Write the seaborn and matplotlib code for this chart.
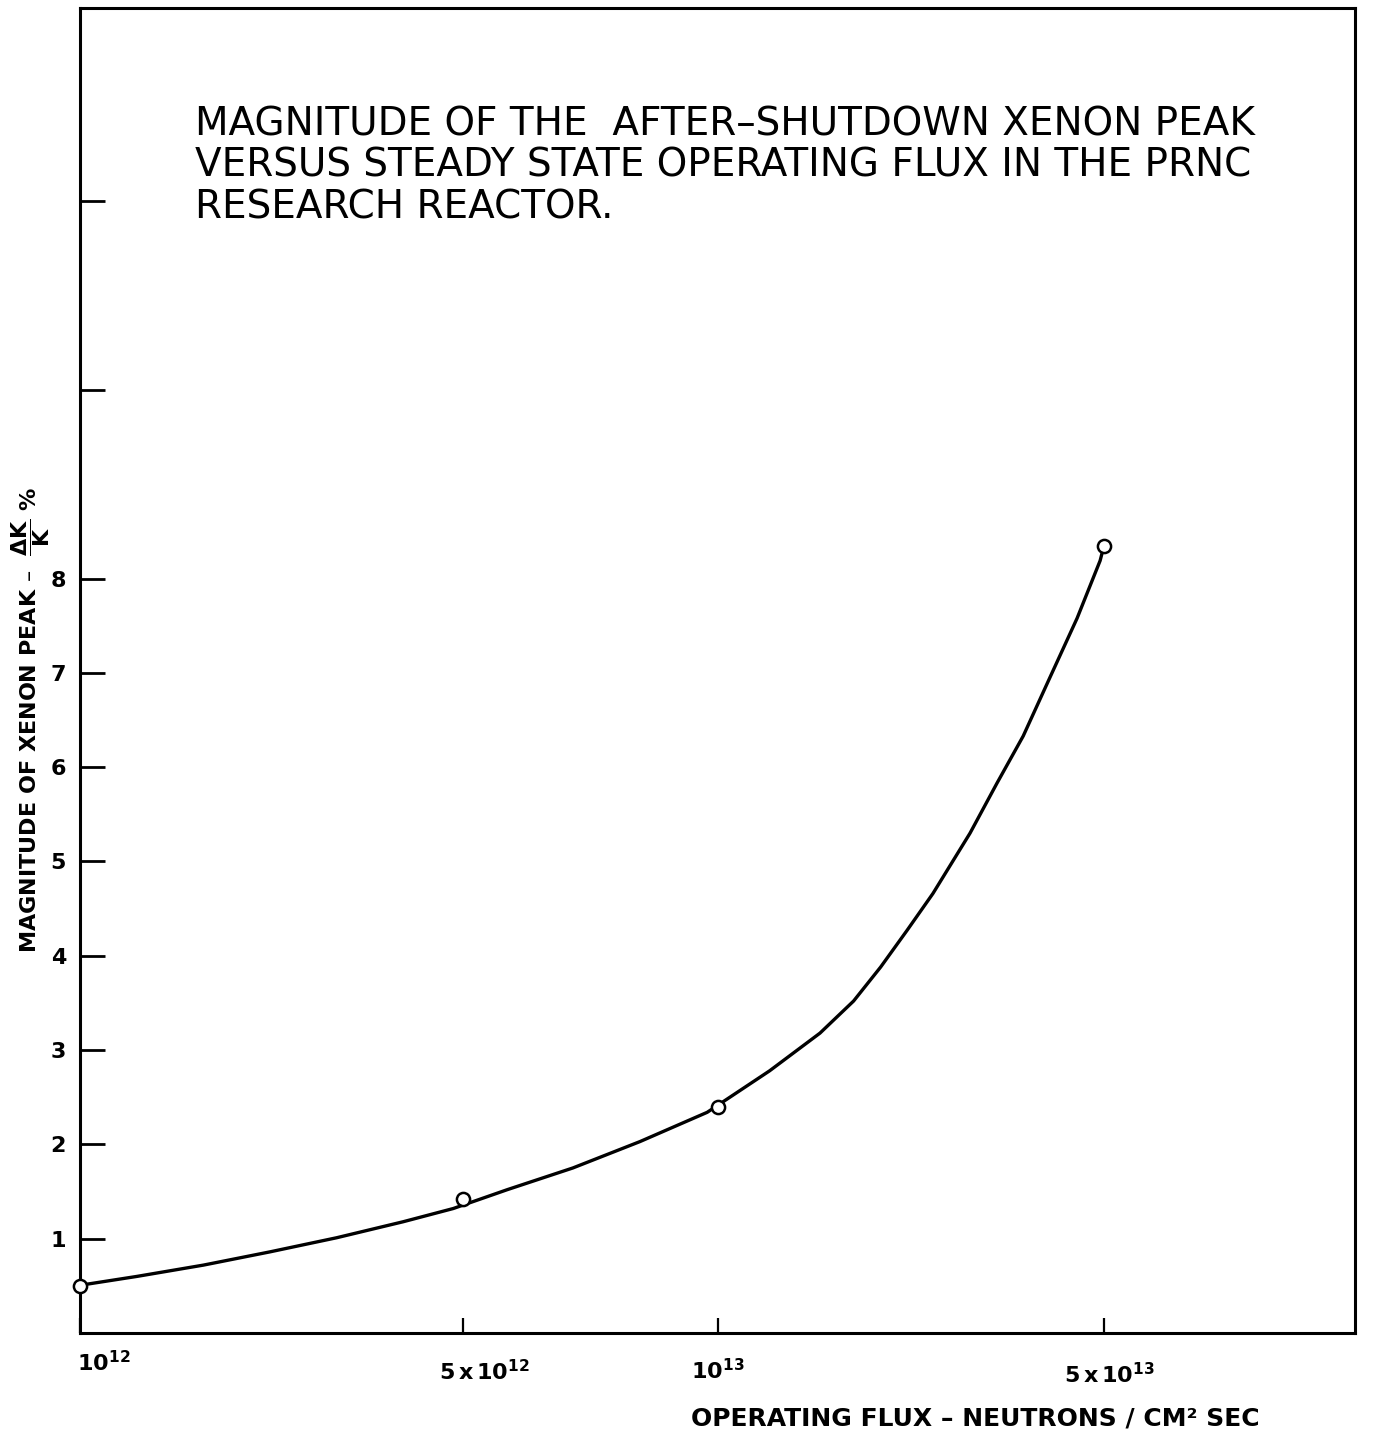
import numpy as np
import matplotlib
matplotlib.use("Agg")
import matplotlib.pyplot as plt
from matplotlib.transforms import ScaledTranslation
import seaborn as sns

# ---------------- data ----------------
point_flux = [1.0e12, 5.0e12, 1.0e13, 5.0e13]
point_val = [0.5, 1.42, 2.4, 8.35]

curve_flux = [1.01e12, 1.27e12, 1.68e12, 2.22e12, 2.94e12, 3.89e12, 4.80e12,
              5.64e12, 6.74e12, 8.09e12, 9.71e12, 1.24e13, 1.53e13, 1.76e13,
              1.97e13, 2.20e13, 2.45e13, 2.86e13, 3.20e13, 3.57e13, 3.99e13,
              4.47e13, 4.92e13, 5.0e13]
curve_val = [0.51, 0.60, 0.72, 0.86, 1.01, 1.18, 1.32,
             1.52, 1.75, 2.03, 2.34, 2.78, 3.18, 3.52,
             3.88, 4.27, 4.66, 5.30, 5.83, 6.33, 6.95,
             7.58, 8.19, 8.35]

x_ticks = [1e12, 5e12, 1e13, 5e13]
x_ticklabels = [r"$10^{12}$", r"$5\,x\,10^{12}$", r"$10^{13}$", r"$5\,x\,10^{13}$"]
y_ticks = [1, 2, 3, 4, 5, 6, 7, 8, 10, 12]
y_ticklabels = ["1", "2", "3", "4", "5", "6", "7", "8", "", ""]

title = ("MAGNITUDE OF THE  AFTER–SHUTDOWN XENON PEAK\n"
         "VERSUS STEADY STATE OPERATING FLUX IN THE PRNC\n"
         "RESEARCH REACTOR.")
ylabel = r"MAGNITUDE OF XENON PEAK –  $\dfrac{\Delta K}{K}$ %"
xlabel = "OPERATING FLUX – NEUTRONS / CM² SEC"

# ---------------- style ----------------
sns.set_style("white")
plt.rcParams['font.family'] = ['DejaVu Sans']
plt.rcParams['mathtext.fontset'] = 'dejavusans'
plt.rcParams['mathtext.default'] = 'bf'
for k in ['text.color', 'axes.labelcolor', 'xtick.color', 'ytick.color', 'axes.edgecolor']:
    plt.rcParams[k] = 'black'

fig = plt.figure(figsize=(13.74, 14.41), dpi=100)
ax = fig.add_axes([80 / 1374, 1 - 1333 / 1441, 1275 / 1374, 1325 / 1441])

# hand-drawn logarithmic flux axis (piecewise log, matching the original graph paper)
L_ANCH = np.array([11.0, 12.0, np.log10(5e12), 13.0, np.log10(5e13), 15.0])
P_ANCH = np.array([-548.0, 0.0, 383.0, 638.0, 1024.0, 1742.0])


def fwd(x):
    x = np.clip(np.asarray(x, dtype=float), 1e-300, None)
    return np.interp(np.log10(x), L_ANCH, P_ANCH)


def inv(p):
    return 10 ** np.interp(np.asarray(p, dtype=float), P_ANCH, L_ANCH)


ax.set_xscale('function', functions=(fwd, inv))

sns.lineplot(x=curve_flux, y=curve_val, color='black', lw=2.4, ax=ax,
             sort=False, estimator=None)
sns.scatterplot(x=point_flux, y=point_val, s=90, facecolor='white',
                edgecolor='black', linewidth=1.8, zorder=5, ax=ax, clip_on=False)

ax.set_xlim(1e12, float(inv(1275.0)))
ax.set_ylim(0, 14.05)

ax.set_xticks(x_ticks)
ax.set_xticklabels(x_ticklabels, fontsize=16)
ax.xaxis.set_minor_locator(matplotlib.ticker.NullLocator())
ax.set_yticks(y_ticks)
ax.set_yticklabels(y_ticklabels, fontsize=16, fontweight='bold')

ax.tick_params(axis='y', which='major', left=True, direction='in', length=18,
               width=2, pad=10, color='black')
ax.tick_params(axis='x', which='major', bottom=True, direction='in', length=11,
               width=1.6, pad=12, color='black')

for sp in ax.spines.values():
    sp.set_visible(True)
    sp.set_color('black')
    sp.set_linewidth(2.2)

# individual offsets of the hand-lettered tick labels (points)
offsets = [(17, 0), (15, -7), (0, -6), (4, -9)]
for lab, (dx, dy) in zip(ax.get_xticklabels(), offsets):
    lab.set_transform(lab.get_transform() + ScaledTranslation(dx / 72, dy / 72, fig.dpi_scale_trans))

ax.set_ylabel(ylabel, fontsize=16, fontweight='bold')
ax.yaxis.set_label_coords(-28 / 1275, (1333 - 720) / 1325)
ax.set_xlabel(xlabel, fontsize=18, fontweight='bold')
ax.xaxis.set_label_coords((975 - 80) / 1275, (1333 - 1418) / 1325)
ax.xaxis.label.set_va('center')

fig.text(195 / 1374, 1 - 105 / 1441, title, fontsize=28, ha='left', va='top',
         linespacing=1.12, color='black')

fig.savefig("out.png", dpi=100)
